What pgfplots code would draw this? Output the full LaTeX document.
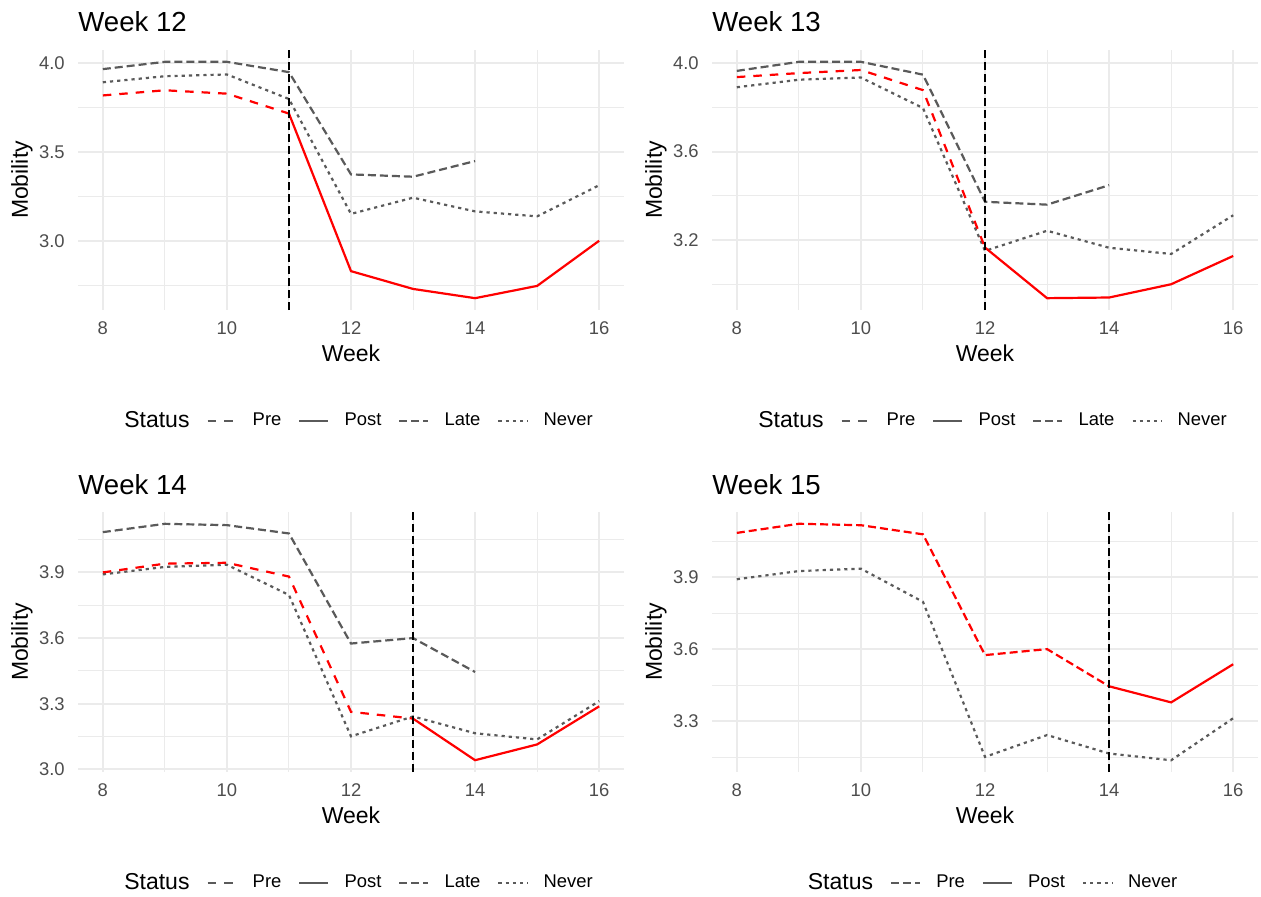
\documentclass[border=0pt]{standalone}
\usepackage{fontspec}
\setmainfont{Liberation Sans}
\usepackage{pgfplots}
\pgfplotsset{compat=1.18}
\definecolor{grid92}{HTML}{EBEBEB}
\definecolor{grey30}{HTML}{4D4D4D}
\definecolor{lgrey}{HTML}{5A5A5A}
\definecolor{ggred}{HTML}{FF0000}

\pgfplotsset{
 panel/.style={
  scale only axis, width=273pt, height=130pt, anchor=south west,
  xmin=7.6, xmax=16.4, xtick={8,10,12,14,16}, minor xtick={9,11,13,15},
  xticklabels={8,10,12,14,16},
  grid=both,
  major grid style={grid92, line width=1pt},
  minor grid style={grid92, line width=0.5pt},
  axis line style={draw=none}, major tick length=0pt, minor tick length=0pt, tick style={draw=none},
  /pgf/number format/assume math mode=true,
  tick label style={font=\fontsize{9.2}{11}\selectfont, text=grey30, inner sep=0pt},
  xticklabel style={anchor=center, yshift=-9pt},
  yticklabel style={anchor=east, xshift=-6.5pt},
  xlabel={Week}, ylabel={Mobility},
  label style={font=\fontsize{11.5}{13}\selectfont},
  xlabel style={at={(axis description cs:0.5,-0.1654)}, anchor=center},
  ylabel style={at={(axis description cs:-0.1026,0.5)}, anchor=center},
  every axis title shift=0pt,
  title style={at={(axis description cs:0,1)}, anchor=base west, yshift=9pt, inner sep=0pt, font=\fontsize{13.8}{16}\selectfont},
  legend style={at={(axis description cs:0.5,-0.427)}, anchor=center, draw=none, fill=none, inner sep=0pt,
    legend columns=-1, font=\fontsize{9.2}{11}\selectfont, nodes={inner sep=0pt},
    /tikz/every odd column/.append style={column sep=7.5pt},
    /tikz/every even column/.append style={column sep=8.5pt}},
  legend image code/.code={\draw[#1] (0pt,0pt) -- (14.5pt,0pt);},
 },
 prest/.style={line width=1.1pt, dash pattern=on 4.25pt off 4pt},
 postst/.style={line width=1.1pt},
 latest/.style={line width=1.1pt, dash pattern=on 4pt off 2pt},
 neverst/.style={line width=1.1pt, dash pattern=on 1.6pt off 2pt},
 vl/.style={black, line width=1.1pt, dash pattern=on 4pt off 2pt, forget plot},
}

\pgfplotstableread{
x y
8 3.891
9 3.925
10 3.935
11 3.797
12 3.151
13 3.242
14 3.165
15 3.137
16 3.312
}\never
\pgfplotstableread{
x y
8 3.965
9 4.006
10 4.006
11 3.948
12 3.373
13 3.360
14 3.448
}\lateA
\pgfplotstableread{
x y
8 4.084
9 4.122
10 4.116
11 4.078
12 3.575
13 3.600
14 3.445
}\lateB

\begin{document}
\begin{tikzpicture}
\useasboundingbox (0,0) rectangle (630.5pt,448pt);

% Panel 1: Week 12
\begin{axis}[panel, at={(39pt,293pt)}, title={Week 12},
  ymin=2.6105, ymax=4.0725, ytick={3.0,3.5,4.0}, yticklabels={3.0,3.5,4.0},
  minor ytick={2.75,3.25,3.75}]
\addplot[lgrey, latest, forget plot] table {\lateA};
\addplot[lgrey, neverst, forget plot] table {\never};
\addplot[ggred, prest, forget plot] coordinates {(8,3.817) (9,3.846) (10,3.827) (11,3.715)};
\addplot[ggred, postst, forget plot] coordinates {(11,3.715) (12,2.829) (13,2.729) (14,2.677) (15,2.746) (16,3.0)};
\addplot[vl] coordinates {(11,2.6105) (11,4.0725)};
\addlegendimage{empty legend}\addlegendentry{\fontsize{11.5}{13}\selectfont Status}
\addlegendimage{lgrey, prest}\addlegendentry{Pre}
\addlegendimage{lgrey, postst}\addlegendentry{Post}
\addlegendimage{lgrey, latest}\addlegendentry{Late}
\addlegendimage{lgrey, neverst}\addlegendentry{Never}
\end{axis}

% Panel 2: Week 13
\begin{axis}[panel, at={(356pt,293pt)}, title={Week 13},
  ymin=2.8835, ymax=4.0595, ytick={3.2,3.6,4.0}, yticklabels={3.2,3.6,4.0},
  minor ytick={3.0,3.4,3.8}]
\addplot[lgrey, latest, forget plot] table {\lateA};
\addplot[lgrey, neverst, forget plot] table {\never};
\addplot[ggred, prest, forget plot] coordinates {(8,3.937) (9,3.955) (10,3.969) (11,3.878) (12,3.166)};
\addplot[ggred, postst, forget plot] coordinates {(12,3.166) (13,2.937) (14,2.940) (15,3.0) (16,3.128)};
\addplot[vl] coordinates {(12,2.8835) (12,4.0595)};
\addlegendimage{empty legend}\addlegendentry{\fontsize{11.5}{13}\selectfont Status}
\addlegendimage{lgrey, prest}\addlegendentry{Pre}
\addlegendimage{lgrey, postst}\addlegendentry{Post}
\addlegendimage{lgrey, latest}\addlegendentry{Late}
\addlegendimage{lgrey, neverst}\addlegendentry{Never}
\end{axis}

% Panel 3: Week 14
\begin{axis}[panel, at={(39pt,62pt)}, title={Week 14},
  ymin=2.988, ymax=4.176, ytick={3.0,3.3,3.6,3.9}, yticklabels={3.0,3.3,3.6,3.9},
  minor ytick={3.15,3.45,3.75,4.05}]
\addplot[lgrey, latest, forget plot] table {\lateB};
\addplot[lgrey, neverst, forget plot] table {\never};
\addplot[ggred, prest, forget plot] coordinates {(8,3.900) (9,3.940) (10,3.944) (11,3.881) (12,3.263) (13,3.232)};
\addplot[ggred, postst, forget plot] coordinates {(13,3.232) (14,3.042) (15,3.114) (16,3.288)};
\addplot[vl] coordinates {(13,2.988) (13,4.176)};
\addlegendimage{empty legend}\addlegendentry{\fontsize{11.5}{13}\selectfont Status}
\addlegendimage{lgrey, prest}\addlegendentry{Pre}
\addlegendimage{lgrey, postst}\addlegendentry{Post}
\addlegendimage{lgrey, latest}\addlegendentry{Late}
\addlegendimage{lgrey, neverst}\addlegendentry{Never}
\end{axis}

% Panel 4: Week 15
\begin{axis}[panel, at={(356pt,62pt)}, title={Week 15},
  ymin=3.088, ymax=4.171, ytick={3.3,3.6,3.9}, yticklabels={3.3,3.6,3.9},
  minor ytick={3.15,3.45,3.75,4.05}]
\addplot[lgrey, neverst, forget plot] table {\never};
\addplot[ggred, latest, forget plot] table {\lateB};
\addplot[ggred, postst, forget plot] coordinates {(14,3.445) (15,3.378) (16,3.537)};
\addplot[vl] coordinates {(14,3.088) (14,4.171)};
\addlegendimage{empty legend}\addlegendentry{\fontsize{11.5}{13}\selectfont Status}
\addlegendimage{lgrey, latest}\addlegendentry{Pre}
\addlegendimage{lgrey, postst}\addlegendentry{Post}
\addlegendimage{lgrey, neverst}\addlegendentry{Never}
\end{axis}
\end{tikzpicture}
\end{document}
